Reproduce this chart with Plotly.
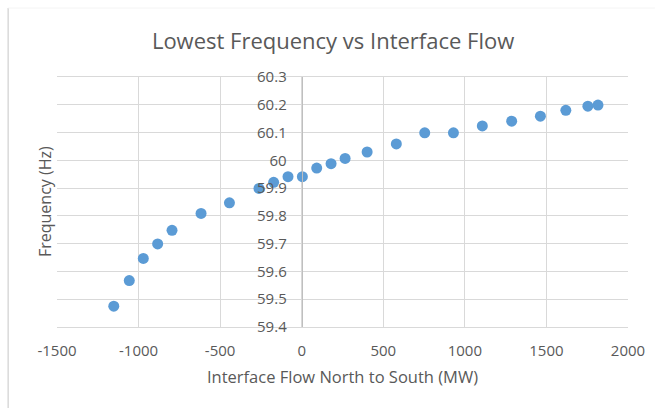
import plotly.graph_objects as go

flow_mw = [-1152, -1057, -971, -883, -795, -617, -443, -262, -172, -84, 4,
           92, 180, 266, 401, 580, 754, 930, 1107, 1287, 1463, 1619, 1754, 1816]
freq_hz = [59.475, 59.567, 59.647, 59.699, 59.748, 59.809, 59.847, 59.899, 59.921,
           59.941, 59.941, 59.972, 59.988, 60.007, 60.030, 60.059, 60.099, 60.099,
           60.124, 60.141, 60.159, 60.180, 60.195, 60.199]

x_ticks = [-1500, -1000, -500, 0, 500, 1000, 1500, 2000]
y_ticks = [59.4, 59.5, 59.6, 59.7, 59.8, 59.9, 60.0, 60.1, 60.2, 60.3]
y_tick_text = ["59.4", "59.5", "59.6", "59.7", "59.8", "59.9", "60", "60.1", "60.2", "60.3"]

FONT = "Open Sans"
TXT = "#595959"
GRID = "#d9d9d9"

W, H = 657, 408
ML, MR, MT, MB = 57, 27, 77, 81
PW, PH = W - ML - MR, H - MT - MB
x_range = [-1500, 2000]
yaxis_pos = (0 - x_range[0]) / (x_range[1] - x_range[0])

fig = go.Figure()
fig.add_trace(go.Scatter(
    x=flow_mw, y=freq_hz, mode="markers",
    marker=dict(color="#5B9BD5", size=11, line=dict(width=0)),
    showlegend=False, cliponaxis=False,
))

fig.update_layout(
    width=W, height=H,
    margin=dict(l=ML, r=MR, t=MT, b=MB),
    paper_bgcolor="white", plot_bgcolor="white",
    font=dict(family=FONT, color=TXT, size=15),
    title=dict(text="Lowest Frequency vs Interface Flow",
               font=dict(family=FONT, size=22, color=TXT),
               x=0.507, xanchor="center", y=0.9, yanchor="middle", yref="container"),
    xaxis=dict(
        range=x_range, tickvals=x_ticks, ticktext=[str(v) for v in x_ticks],
        showgrid=True, gridcolor=GRID, gridwidth=1,
        zeroline=False, showline=True, linecolor=GRID, linewidth=1, mirror=True,
        ticks="", ticklabelstandoff=10,
        tickfont=dict(family=FONT, size=15, color=TXT),
        title=dict(text="Interface Flow North to South (MW)",
                   font=dict(family=FONT, size=16.5, color=TXT), standoff=12),
    ),
    yaxis=dict(
        range=[59.4, 60.3], tickvals=y_ticks, ticktext=y_tick_text,
        showgrid=True, gridcolor=GRID, gridwidth=1,
        zeroline=False, showline=True, linecolor="#bfbfbf", linewidth=1,
        anchor="free", position=yaxis_pos, side="left",
        ticks="", ticklabelstandoff=12,
        tickfont=dict(family=FONT, size=15, color=TXT),
    ),
    annotations=[dict(
        text="Frequency (Hz)", textangle=-90, showarrow=False,
        xref="paper", yref="paper", x=(45 - ML) / PW, y=0.5,
        xanchor="center", yanchor="middle",
        font=dict(family=FONT, size=16, color=TXT),
    )],
    shapes=[
        dict(type="line", xref="paper", yref="paper",
             x0=(8 - ML) / PW, x1=(8 - ML) / PW,
             y0=-MB / PH, y1=(H - 8 - MB) / PH,
             line=dict(color=GRID, width=1.5)),
        dict(type="line", xref="paper", yref="paper",
             x0=(8 - ML) / PW, x1=(W - ML) / PW,
             y0=(H - 8 - MB) / PH, y1=(H - 8 - MB) / PH,
             line=dict(color="#f4f4f4", width=1)),
    ],
)

fig.write_html("out.html")
